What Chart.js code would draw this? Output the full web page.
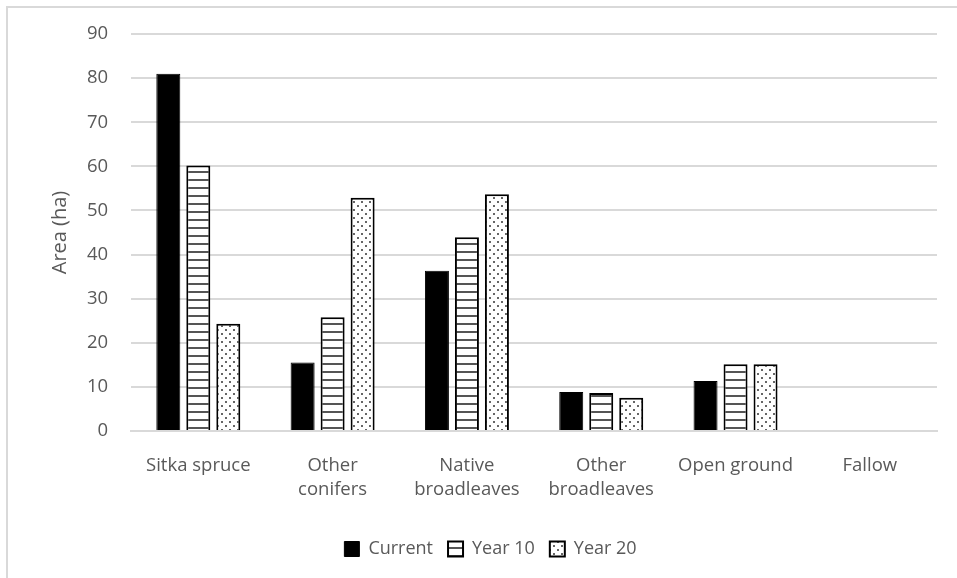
<!DOCTYPE html>
<html>
<head>
<meta charset="utf-8">
<script src="https://cdn.jsdelivr.net/npm/chart.js@4/dist/chart.umd.min.js"></script>
<style>
  html, body { margin: 0; padding: 0; background: #fff; overflow: hidden; }
  #frame { position: absolute; left: 6px; top: 6px; width: 960px; height: 600px; border: 2px solid #d9d9d9; box-sizing: border-box; }
  #wrap { position: absolute; left: 0; top: 0; width: 957px; height: 578px; }
</style>
</head>
<body>
<div id="frame"></div>
<div id="wrap"><canvas id="areaChart"></canvas></div>
<script>
const categories = [['Sitka spruce'], ['Other', 'conifers'], ['Native', 'broadleaves'], ['Other', 'broadleaves'], ['Open ground'], ['Fallow']];
const currentArea = [81, 15.5, 36.3, 8.8, 11.3, 0];
const year10Area = [60.2, 25.8, 43.9, 8.6, 15.1, 0];
const year20Area = [24.3, 52.9, 53.7, 7.5, 15.1, 0];
const yTicks = [0, 10, 20, 30, 40, 50, 60, 70, 80, 90];

// hatch fill for year 10 bars
function linePattern() {
  const c = document.createElement('canvas');
  c.width = 8; c.height = 8;
  const g = c.getContext('2d');
  g.fillStyle = '#fff';
  g.fillRect(0, 0, 8, 8);
  g.fillStyle = '#555';
  g.fillRect(0, 3, 8, 2);
  return g.createPattern(c, 'repeat');
}

// sparse dots for year 20 bars
function dotPattern() {
  const c = document.createElement('canvas');
  c.width = 8; c.height = 8;
  const g = c.getContext('2d');
  g.fillStyle = '#fff';
  g.fillRect(0, 0, 8, 8);
  g.fillStyle = '#666';
  g.fillRect(1, 1, 2, 2);
  g.fillRect(5, 5, 2, 2);
  return g.createPattern(c, 'repeat');
}

const font = "'Open Sans', 'Liberation Sans', sans-serif";
const grey = '#595959';

const ctx = document.getElementById('areaChart').getContext('2d');
const areaChart = new Chart(ctx, {
  type: 'bar',
  data: {
    labels: categories,
    datasets: [
      { label: 'Current', data: currentArea, backgroundColor: '#000', borderColor: '#000', borderWidth: 1 },
      { label: 'Year 10', data: year10Area, backgroundColor: linePattern(), borderColor: '#000', borderWidth: 2 },
      { label: 'Year 20', data: year20Area, backgroundColor: dotPattern(), borderColor: '#000', borderWidth: 2 }
    ]
  },
  options: {
    responsive: true,
    maintainAspectRatio: false,
    animation: false,
    devicePixelRatio: 1,
    layout: { padding: { left: 44, right: 20, top: 26, bottom: 10 } },
    categoryPercentage: 0.67,
    barPercentage: 0.8,
    plugins: {
      legend: {
        position: 'bottom',
        labels: {
          color: grey,
          font: { family: font, size: 18 },
          boxWidth: 15,
          boxHeight: 15,
          padding: 15
        }
      },
      tooltip: { enabled: false }
    },
    scales: {
      x: {
        grid: { display: false, drawTicks: false },
        border: { color: '#d9d9d9', width: 2 },
        ticks: { color: grey, font: { family: font, size: 18.5, lineHeight: 1.3 }, padding: 23, maxRotation: 0 }
      },
      y: {
        min: 0,
        max: 90,
        afterBuildTicks: axis => { axis.ticks = yTicks.map(v => ({ value: v })); },
        grid: { color: '#d9d9d9', lineWidth: 2, drawTicks: false },
        border: { display: false },
        ticks: { color: grey, font: { family: font, size: 18.5 }, padding: 23 },
        title: { display: true, text: 'Area (ha)', color: grey, font: { family: font, size: 20 }, padding: { top: 4, bottom: -8 } }
      }
    }
  }
});
</script>
</body>
</html>
